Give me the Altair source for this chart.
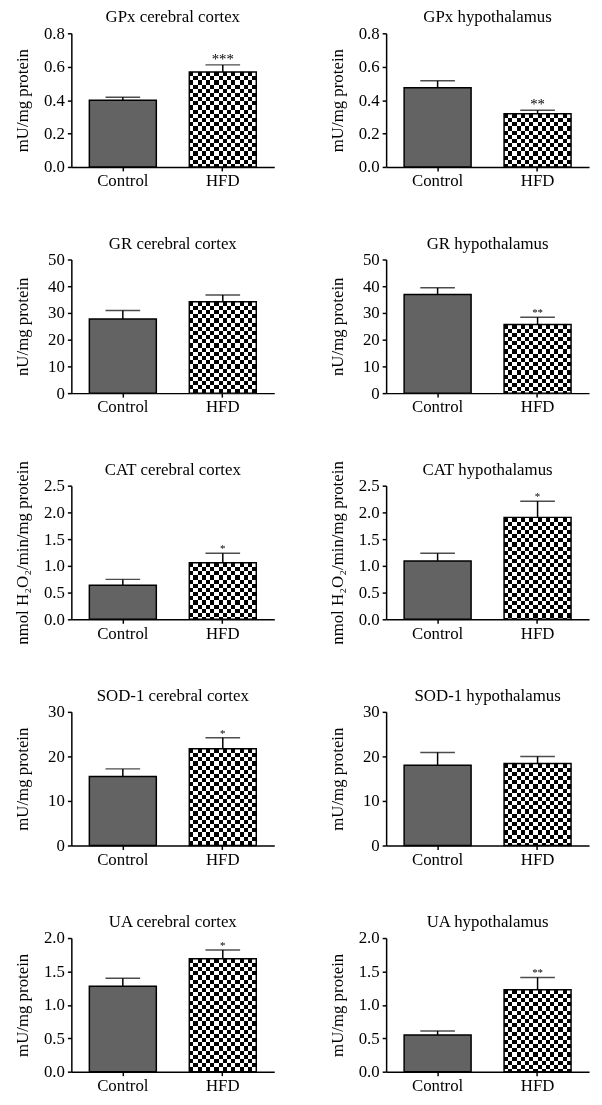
import altair as alt
import pandas as pd

groups = ["Control", "HFD"]
titles = ["GPx cerebral cortex", "GPx hypothalamus",
          "GR cerebral cortex", "GR hypothalamus",
          "CAT cerebral cortex", "CAT hypothalamus",
          "SOD-1 cerebral cortex", "SOD-1 hypothalamus",
          "UA cerebral cortex", "UA hypothalamus"]
y_titles = ["mU/mg protein", "mU/mg protein",
            "nU/mg protein", "nU/mg protein",
            "nmol H₂O₂/min/mg protein", "nmol H₂O₂/min/mg protein",
            "mU/mg protein", "mU/mg protein",
            "mU/mg protein", "mU/mg protein"]
control_mean = [0.399, 0.474, 27.7, 36.9, 0.636, 1.093, 15.5, 18.0, 1.28, 0.55]
control_upper = [0.417, 0.516, 30.9, 39.4, 0.747, 1.235, 17.2, 20.9, 1.40, 0.61]
hfd_mean = [0.568, 0.318, 34.2, 25.7, 1.056, 1.907, 21.7, 18.4, 1.69, 1.226]
hfd_upper = [0.611, 0.339, 36.7, 28.4, 1.235, 2.21, 24.2, 20.0, 1.82, 1.41]
hfd_stars = ["***", "**", "", "**", "*", "*", "*", "", "*", "**"]
y_max = [0.8, 0.8, 50, 50, 2.5, 2.5, 30, 30, 2.0, 2.0]
y_ticks = [[0, 0.2, 0.4, 0.6, 0.8], [0, 0.2, 0.4, 0.6, 0.8],
           [0, 10, 20, 30, 40, 50], [0, 10, 20, 30, 40, 50],
           [0, 0.5, 1.0, 1.5, 2.0, 2.5], [0, 0.5, 1.0, 1.5, 2.0, 2.5],
           [0, 10, 20, 30], [0, 10, 20, 30],
           [0, 0.5, 1.0, 1.5, 2.0], [0, 0.5, 1.0, 1.5, 2.0]]
y_formats = [".1f", ".1f", "d", "d", ".1f", ".1f", "d", "d", ".1f", ".1f"]
star_sizes = [15, 15, 11, 11, 11, 11, 11, 11, 11, 11]

FONT = "Liberation Serif"
W, H = 205, 135
CONTROL_FILL = "#636363"
CHECK_COLS = 16      # checker squares across an HFD bar
CHECK_ROWS = 32      # checker squares over the full plot height


def stripe_stops(n):
    stops = []
    for k in range(n):
        c = "black" if k % 2 == 0 else "white"
        stops.append({"offset": k / n, "color": c})
        stops.append({"offset": (k + 1) / n, "color": c})
    return stops


def panel(i):
    df = pd.DataFrame({
        "group": groups,
        "mean": [control_mean[i], hfd_mean[i]],
        "upper": [control_upper[i], hfd_upper[i]],
        "star": ["", hfd_stars[i]],
    })
    xs = alt.Scale(domain=groups, paddingInner=0.33, paddingOuter=0.18)
    xa = alt.Axis(title=None, labelAngle=0, tickSize=4, labelPadding=2)
    ys = alt.Scale(domain=[0, y_max[i]], nice=False, zero=True)
    ya = alt.Axis(values=y_ticks[i], format=y_formats[i], title=y_titles[i],
                  tickSize=4, labelPadding=3, titleX=-40, titleY=H / 2,
                  titleAngle=270, titleBaseline="bottom")
    x = alt.X("group:N", scale=xs, axis=xa)
    y_mean = alt.Y("mean:Q", scale=ys, axis=ya)
    y_up = alt.Y("upper:Q", scale=ys, axis=ya)
    base = alt.Chart(df)

    ctrl = base.transform_filter(alt.datum.group == "Control").mark_bar(
        fill=CONTROL_FILL).encode(x=x, y=y_mean)
    hfd_v = base.transform_filter(alt.datum.group == "HFD").mark_bar(
        fill={"gradient": "linear", "x1": 0, "y1": 0, "x2": 1, "y2": 0,
              "stops": stripe_stops(CHECK_COLS)}).encode(x=x, y=y_mean)
    hfd_h = base.transform_filter(alt.datum.group == "HFD").mark_bar(
        blend="difference",
        fill={"gradient": "linear", "x1": 0, "y1": 0, "x2": 0,
              "y2": y_max[i] / hfd_mean[i],
              "stops": stripe_stops(CHECK_ROWS)}).encode(x=x, y=y_mean)
    outline = base.mark_bar(fillOpacity=0, stroke="black", strokeWidth=1.5).encode(
        x=x, y=y_mean)
    err = base.mark_rule(color="black", strokeWidth=1.5).encode(
        x=x, y=y_mean, y2="upper:Q")
    caps = base.mark_tick(color="black", size=35, thickness=1.5).encode(x=x, y=y_up)
    stars = base.mark_text(baseline="alphabetic", dy=-1, fontSize=star_sizes[i],
                           font=FONT, color="black").encode(x=x, y=y_up, text="star:N")
    title = alt.Chart(pd.DataFrame({"title": [titles[i]]})).mark_text(
        font=FONT, fontSize=17, align="center", baseline="alphabetic", color="black"
    ).encode(x=alt.value(W / 2), y=alt.value(-11), text="title:N")
    return alt.layer(ctrl, hfd_v, hfd_h, outline, err, caps, stars, title).properties(
        width=W, height=H)


chart = alt.concat(*[panel(i) for i in range(10)], columns=2,
                   spacing={"row": 93.5, "column": 113}, bounds="flush").properties(
    padding={"left": 5, "top": -5, "right": 5, "bottom": -3},
    background="white",
).configure_view(stroke=None).configure_axis(
    domainColor="black", domainWidth=1.5, tickColor="black", tickWidth=1.5,
    grid=False, labelFont=FONT, labelFontSize=17, labelColor="black",
    titleFont=FONT, titleFontSize=17, titleFontWeight="normal", titleColor="black",
).configure_text(font=FONT)

chart.save("out.html", embed_options={"renderer": "svg", "actions": False})
